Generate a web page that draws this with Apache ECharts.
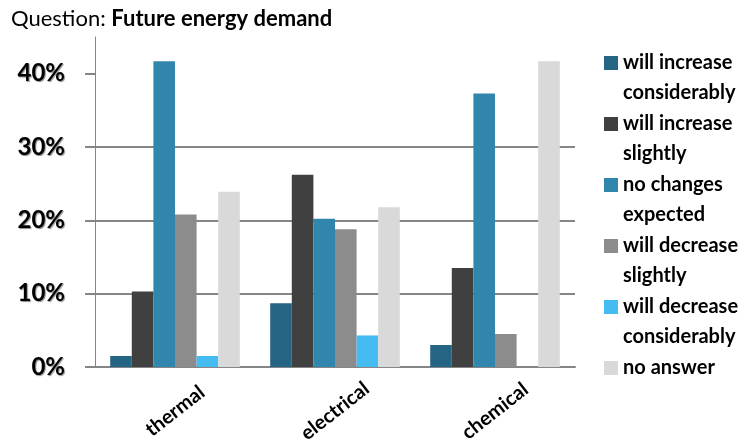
<!DOCTYPE html>
<html>
<head>
<meta charset="utf-8">
<script src="https://cdn.jsdelivr.net/npm/echarts@6/dist/echarts.min.js"></script>
<style>
  html, body { margin: 0; padding: 0; background: #fff; }
  #chart { width: 747px; height: 448px; }
</style>
</head>
<body>
<div id="chart"></div>
<script>
// categories and answers
var categories = ['thermal', 'electrical', 'chemical'];
var answers = [
    'will increase\nconsiderably',
    'will increase\nslightly',
    'no changes\nexpected',
    'will decrease\nslightly',
    'will decrease\nconsiderably',
    'no answer'
];
var colors = ['#236582', '#404040', '#3186ae', '#8c8c8c', '#44bcf1', '#d9d9d9'];

// percentages per answer (thermal, electrical, chemical)
var increaseMuch = [1.5, 8.7, 3.0];
var increaseLittle = [10.3, 26.2, 13.5];
var noChange = [41.7, 20.2, 37.3];
var decreaseLittle = [20.8, 18.8, 4.5];
var decreaseMuch = [1.5, 4.3, 0];
var noAnswer = [23.9, 21.8, 41.7];

var yTicks = [0, 10, 20, 30, 40];

var values = [increaseMuch, increaseLittle, noChange, decreaseLittle, decreaseMuch, noAnswer];
var font = 'Lato, "Open Sans", sans-serif';

var myChart = echarts.init(document.getElementById('chart'));

var series = [];
for (var i = 0; i < answers.length; i++) {
    series.push({
        name: answers[i],
        type: 'bar',
        data: values[i],
        barGap: '0%',
        barCategoryGap: '19%',
        itemStyle: { color: colors[i] }
    });
}

var option = {
    animation: false,
    textStyle: { fontFamily: font },
    title: {
        text: '{q|Question: }{b|Future energy demand}',
        left: 6,
        top: 3,
        textStyle: {
            rich: {
                q: { fontFamily: font, fontSize: 22, color: '#000', fontWeight: 'normal' },
                b: { fontFamily: font, fontSize: 22, color: '#000', fontWeight: 'bold' }
            }
        }
    },
    legend: {
        orient: 'vertical',
        left: 604,
        top: 18,
        padding: 0,
        itemWidth: 14,
        itemHeight: 14,
        itemGap: -29,
        icon: 'rect',
        data: answers,
        // blank lines keep the first text line beside the square
        formatter: function (name) {
            return name.indexOf('\n') < 0 ? '\n' + name + '\n\u00a0' : '\n' + name;
        },
        textStyle: {
            fontFamily: font,
            fontSize: 20,
            fontWeight: 'bold',
            color: '#000',
            lineHeight: 30
        }
    },
    grid: {
        left: 95,
        right: 172,
        top: 37,
        bottom: 81,
        containLabel: false
    },
    xAxis: {
        type: 'category',
        data: categories,
        axisLine: { lineStyle: { color: '#868686', width: 2 } },
        axisTick: { length: 8, lineStyle: { color: '#868686', width: 2 } },
        axisLabel: {
            rotate: 38,
            align: 'center',
            verticalAlign: 'middle',
            margin: 44,
            fontFamily: font,
            fontSize: 20,
            fontWeight: 'bold',
            color: '#000'
        }
    },
    yAxis: {
        type: 'value',
        min: 0,
        max: 45,
        interval: 10,
        axisLine: { show: true, lineStyle: { color: '#868686', width: 1 } },
        axisTick: {
            show: true,
            length: 10,
            customValues: yTicks,
            lineStyle: { color: '#868686', width: 2 }
        },
        splitLine: { show: true, showMaxLine: false, lineStyle: { color: '#868686', width: 2 } },
        axisLabel: {
            customValues: yTicks,
            margin: 30,
            formatter: '{value}%',
            fontFamily: font,
            fontSize: 24,
            fontWeight: 'bold',
            color: '#000',
            textShadowColor: 'rgba(0,0,0,0.45)',
            textShadowOffsetX: 1,
            textShadowOffsetY: 1,
            textShadowBlur: 1
        }
    },
    series: series
};

myChart.setOption(option);
</script>
</body>
</html>
